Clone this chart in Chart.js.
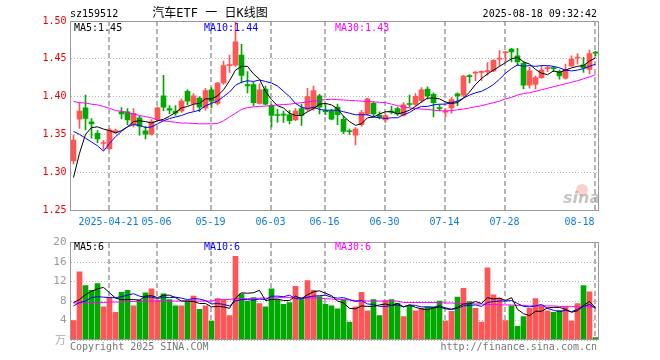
<!DOCTYPE html>
<html>
<head>
<meta charset="utf-8">
<script src="https://cdn.jsdelivr.net/npm/chart.js@4.4.1/dist/chart.umd.min.js"></script>
<style>
  html, body { margin: 0; padding: 0; background: #fff; }
  #wrap { position: relative; width: 660px; height: 360px; }
  canvas { position: absolute; left: 0; }
</style>
</head>
<body>
<div id="wrap">
  <canvas id="kline" width="660" height="232" style="top:0"></canvas>
  <canvas id="vol" width="660" height="128" style="top:232px"></canvas>
</div>
<script>
const dates = [
  '04-11','04-14','04-15','04-16','04-17','04-18','04-21','04-22','04-23','04-24',
  '04-25','04-28','04-29','04-30','05-06','05-07','05-08','05-09','05-12','05-13',
  '05-14','05-15','05-16','05-19','05-20','05-21','05-22','05-23','05-26','05-27',
  '05-28','05-29','05-30','06-03','06-04','06-05','06-06','06-09','06-10','06-11',
  '06-12','06-13','06-16','06-17','06-18','06-19','06-20','06-23','06-24','06-25',
  '06-26','06-27','06-30','07-01','07-02','07-03','07-04','07-07','07-08','07-09',
  '07-10','07-11','07-14','07-15','07-16','07-17','07-18','07-21','07-22','07-23',
  '07-24','07-25','07-28','07-29','07-30','07-31','08-01','08-04','08-05','08-06',
  '08-07','08-08','08-11','08-12','08-13','08-14','08-15','08-18'
];
const tickLabels = ['2025-04-21','05-06','05-19','06-03','06-16','06-30','07-14','07-28','08-18'];

const opens = [
  1.315,1.370,1.385,1.3665,1.3515,1.338,1.331,1.353,1.380,1.380,
  1.363,1.372,1.3547,1.3502,1.3697,1.401,1.384,1.381,1.381,1.407,
  1.391,1.398,1.385,1.409,1.391,1.418,1.441,1.4415,1.455,1.416,
  1.416,1.391,1.410,1.388,1.3757,1.376,1.376,1.369,1.384,1.383,
  1.384,1.401,1.3815,1.381,1.386,1.370,1.3545,1.349,1.363,1.377,
  1.391,1.3755,1.369,1.380,1.384,1.375,1.390,1.3895,1.395,1.410,
  1.403,1.385,1.3795,1.385,1.4037,1.402,1.4275,1.431,1.432,1.433,
  1.434,1.4495,1.458,1.463,1.454,1.444,1.415,1.416,1.425,1.437,
  1.438,1.433,1.4245,1.4405,1.451,1.442,1.436,1.4585
];
const highs = [
  1.349,1.392,1.402,1.371,1.355,1.342,1.3585,1.357,1.3855,1.384,
  1.384,1.374,1.3607,1.3697,1.386,1.428,1.388,1.388,1.397,1.409,
  1.404,1.400,1.411,1.412,1.419,1.447,1.455,1.500,1.469,1.433,
  1.419,1.417,1.414,1.390,1.383,1.381,1.382,1.384,1.390,1.411,
  1.414,1.403,1.391,1.383,1.390,1.374,1.357,1.359,1.382,1.398,
  1.393,1.380,1.377,1.387,1.386,1.392,1.402,1.404,1.412,1.413,
  1.405,1.389,1.384,1.399,1.405,1.428,1.429,1.433,1.434,1.445,
  1.449,1.461,1.460,1.464,1.464,1.446,1.439,1.427,1.441,1.440,
  1.440,1.435,1.443,1.454,1.457,1.452,1.4615,1.460
];
const lows = [
  1.311,1.358,1.356,1.345,1.339,1.330,1.330,1.351,1.3705,1.363,
  1.360,1.349,1.344,1.349,1.368,1.3814,1.377,1.375,1.379,1.389,
  1.381,1.380,1.382,1.385,1.389,1.416,1.432,1.440,1.418,1.405,
  1.388,1.390,1.389,1.360,1.366,1.366,1.364,1.368,1.362,1.381,
  1.382,1.377,1.376,1.369,1.363,1.351,1.350,1.336,1.361,1.375,
  1.373,1.3705,1.366,1.377,1.375,1.374,1.386,1.388,1.392,1.397,
  1.373,1.381,1.373,1.378,1.388,1.400,1.418,1.421,1.421,1.428,
  1.433,1.441,1.447,1.446,1.441,1.410,1.411,1.410,1.424,1.433,
  1.433,1.423,1.423,1.440,1.443,1.432,1.430,1.454
];
const closes = [
  1.3425,1.381,1.371,1.364,1.344,1.339,1.356,1.355,1.377,1.369,
  1.378,1.361,1.3502,1.367,1.3852,1.386,1.382,1.378,1.394,1.394,
  1.401,1.386,1.408,1.394,1.418,1.441,1.442,1.4725,1.428,1.414,
  1.392,1.409,1.390,1.375,1.375,1.3755,1.368,1.381,1.375,1.400,
  1.408,1.386,1.380,1.370,1.376,1.354,1.3535,1.357,1.379,1.397,
  1.377,1.3725,1.375,1.3795,1.377,1.389,1.3895,1.4005,1.409,1.401,
  1.392,1.384,1.3805,1.396,1.401,1.427,1.4265,1.432,1.433,1.434,
  1.448,1.4505,1.459,1.459,1.446,1.415,1.434,1.425,1.435,1.438,
  1.437,1.4275,1.436,1.4495,1.452,1.438,1.457,1.4575
];

const ma5 = [
  1.293,1.325,1.350,1.359,1.360,1.357,1.355,1.352,1.355,1.360,
  1.367,1.368,1.367,1.365,1.368,1.370,1.374,1.379,1.385,1.387,
  1.390,1.391,1.397,1.397,1.401,1.409,1.421,1.435,1.440,1.440,
  1.430,1.423,1.407,1.396,1.388,1.385,1.378,1.375,1.375,1.380,
  1.384,1.390,1.391,1.389,1.384,1.374,1.367,1.362,1.364,1.372,
  1.373,1.377,1.380,1.380,1.377,1.379,1.382,1.387,1.393,1.398,
  1.398,1.397,1.393,1.391,1.392,1.398,1.406,1.416,1.424,1.430,
  1.435,1.440,1.445,1.450,1.452,1.446,1.443,1.436,1.431,1.429,
  1.434,1.432,1.435,1.438,1.440,1.441,1.447,1.451
];
const ma10 = [
  1.354,1.350,1.345,1.340,1.335,1.328,1.338,1.347,1.354,1.360,
  1.363,1.362,1.359,1.360,1.364,1.368,1.371,1.373,1.375,1.378,
  1.380,1.382,1.388,1.391,1.394,1.400,1.406,1.415,1.419,1.421,
  1.420,1.422,1.420,1.418,1.414,1.407,1.400,1.391,1.386,1.384,
  1.386,1.383,1.382,1.382,1.382,1.380,1.378,1.376,1.376,1.376,
  1.373,1.372,1.371,1.372,1.372,1.376,1.379,1.384,1.387,1.387,
  1.389,1.390,1.390,1.392,1.394,1.398,1.402,1.405,1.407,1.411,
  1.416,1.423,1.431,1.437,1.442,1.440,1.441,1.440,1.441,1.441,
  1.440,1.438,1.435,1.434,1.435,1.437,1.440,1.443
];
const ma30 = [
  1.3935,1.392,1.3915,1.390,1.389,1.387,1.3845,1.3815,1.3805,1.379,
  1.377,1.375,1.3735,1.372,1.369,1.368,1.367,1.366,1.365,1.365,
  1.3645,1.364,1.364,1.364,1.3645,1.368,1.373,1.378,1.383,1.3855,
  1.3865,1.387,1.3875,1.388,1.389,1.3895,1.390,1.391,1.392,1.393,
  1.394,1.395,1.396,1.3965,1.396,1.3955,1.395,1.3945,1.394,1.3935,
  1.393,1.3925,1.392,1.390,1.388,1.3865,1.385,1.384,1.3835,1.383,
  1.382,1.3815,1.381,1.3815,1.3825,1.3835,1.385,1.3865,1.388,1.390,
  1.392,1.394,1.397,1.399,1.402,1.404,1.405,1.407,1.409,1.411,
  1.413,1.415,1.417,1.419,1.421,1.4235,1.426,1.429
];

const volumes = [
  4.0,14.0,11.2,10.2,11.6,6.8,8.8,5.7,9.8,10.2,
  7.0,8.2,9.7,10.5,8.2,9.5,8.3,7.0,7.0,8.0,
  9.0,6.3,7.0,3.9,8.5,8.2,5.0,17.2,9.5,8.0,
  8.7,7.5,6.8,10.5,8.3,7.3,7.7,11.0,8.3,12.2,
  10.2,8.9,7.3,7.0,6.4,8.3,3.7,6.8,9.8,6.0,
  8.3,5.0,8.1,8.3,7.6,4.8,7.0,6.0,6.5,6.8,
  6.8,8.0,3.9,5.9,8.8,10.6,7.9,6.5,3.7,14.8,
  9.3,8.6,4.0,7.0,2.8,4.8,6.5,8.5,7.0,6.0,
  5.7,6.1,6.8,3.9,7.5,11.2,9.9,0.5
];
const volMa5 = [
  7.7,8.3,9.3,10.0,10.5,10.8,9.7,8.6,8.3,8.3,
  8.3,8.2,9.0,9.1,8.7,9.2,9.2,8.7,8.0,8.0,
  7.9,7.5,7.5,6.8,6.9,6.8,6.5,8.6,9.7,9.6,
  9.7,10.2,8.1,8.3,8.4,8.1,8.1,9.0,8.5,9.3,
  9.9,10.1,9.6,9.1,8.0,7.6,6.5,6.4,7.0,6.9,
  6.9,7.2,7.4,7.1,7.5,6.8,7.2,6.7,6.4,6.2,
  6.6,6.8,6.4,6.3,6.7,7.4,7.4,7.9,7.5,8.7,
  8.4,8.6,8.1,8.7,6.3,5.4,5.0,5.9,5.9,6.6,
  6.7,6.7,6.3,5.7,6.0,7.1,7.9,6.6
];
const volMa10 = [
  7.0,7.7,8.0,8.7,8.9,8.8,8.7,8.7,8.9,9.2,
  9.5,9.0,8.8,8.8,8.5,8.8,8.7,8.8,8.6,8.3,
  8.5,8.4,8.1,7.4,7.5,7.3,7.0,8.0,8.3,8.3,
  8.2,8.4,8.3,9.0,9.0,8.9,9.2,8.5,8.4,8.8,
  9.0,9.1,9.2,8.8,8.6,8.7,8.3,7.9,8.1,7.4,
  7.3,6.9,6.9,7.1,7.2,6.8,7.2,7.1,6.8,6.8,
  6.7,7.0,6.6,6.3,6.5,7.0,7.1,7.2,6.9,7.7,
  7.9,8.0,8.0,8.1,7.5,6.9,6.8,7.0,7.3,6.5,
  6.1,5.8,6.1,5.8,6.3,6.9,7.3,6.5
];
const volMa30 = [
  7.6,7.6,7.7,7.7,7.7,7.7,7.8,7.8,7.8,7.9,
  7.9,7.9,8.0,8.0,8.0,8.0,8.0,8.0,8.0,8.0,
  8.0,8.0,8.0,8.0,8.3,8.3,8.3,8.5,8.5,8.5,
  8.5,8.6,8.6,8.6,8.7,8.7,8.7,8.7,8.7,8.7,
  8.6,8.6,8.5,8.4,8.3,8.3,8.2,8.1,8.1,8.0,
  8.0,8.0,8.0,8.0,8.0,7.7,7.7,7.7,7.7,7.7,
  7.7,7.7,7.6,7.6,7.5,7.5,7.5,7.4,7.4,7.3,
  7.3,7.2,7.2,7.2,7.1,7.1,7.0,7.0,7.0,7.0,
  7.0,6.9,6.9,6.9,6.8,6.8,6.8,6.8
];

const RED = '#ff5555', GREEN = '#00a800';
const MONO = '"DejaVu Sans Mono", "Noto Sans CJK SC", monospace';
const colors = closes.map((c, i) => c >= opens[i] ? RED : GREEN);
const tickIdx = tickLabels.map(t => dates.indexOf(t.slice(-5)));
const last = a => a[a.length - 1];

Chart.defaults.font.family = MONO;
Chart.defaults.animation = false;

const xScale = () => ({
  offset: true,
  grid: { display: false },
  border: { display: false },
  ticks: { display: false, autoSkip: false },
  afterFit: s => { s.height = 0; }
});

const maLine = (data, color) => ({
  type: 'line', data, borderColor: color, borderWidth: 1,
  pointRadius: 0, tension: 0, order: 0
});

// dashed date lines under the marks
const dateLines = {
  id: 'dateLines',
  beforeDatasetsDraw(chart) {
    const { ctx, chartArea: a } = chart;
    const x = chart.scales.x;
    ctx.save();
    ctx.fillStyle = '#b4b4b4';
    tickIdx.forEach(i => {
      const px = Math.round(x.getPixelForValue(i)) - 2;
      for (let y = Math.round(a.top); y < a.bottom; y += 8) {
        ctx.fillRect(px, y, 2, Math.min(5, a.bottom - y));
      }
    });
    ctx.restore();
  }
};

// frame round the plot area
const frame = {
  id: 'frame',
  afterDraw(chart) {
    const { ctx, chartArea: a } = chart;
    ctx.save();
    ctx.strokeStyle = '#999';
    ctx.lineWidth = 1;
    ctx.strokeRect(Math.floor(a.left) + 0.5, Math.floor(a.top) + 0.5,
      Math.round(a.right - a.left), Math.round(a.bottom - a.top));
    ctx.restore();
  }
};

const klineText = {
  id: 'klineText',
  afterDraw(chart) {
    const ctx = chart.ctx;
    const xs = chart.scales.x;
    ctx.save();
    ctx.textBaseline = 'alphabetic';
    ctx.font = '10px ' + MONO;
    ctx.fillStyle = '#000';
    ctx.textAlign = 'left';
    ctx.fillText('sz159512', 70, 17);
    ctx.textAlign = 'right';
    ctx.fillText('2025-08-18 09:32:42', 597, 17);
    ctx.font = '12px ' + MONO;
    ctx.textAlign = 'center';
    ctx.fillText('汽车ETF 一 日K线图', 210, 17);

    ctx.font = '10px ' + MONO;
    ctx.textAlign = 'left';
    ctx.fillStyle = '#000';
    ctx.fillText('MA5:' + last(ma5).toFixed(2), 74, 31);
    ctx.fillStyle = '#0000ff';
    ctx.fillText('MA10:' + last(ma10).toFixed(2), 204, 31);
    ctx.fillStyle = '#ff00ff';
    ctx.fillText('MA30:' + last(ma30).toFixed(2), 335, 31);

    ctx.fillStyle = '#0b7dda';
    tickLabels.forEach((t, k) => {
      const px = xs.getPixelForValue(tickIdx[k]) - 1;
      const isLast = k === tickLabels.length - 1;
      ctx.textAlign = isLast ? 'right' : 'center';
      ctx.fillText(t, px, 225);
    });

    // sina watermark
    ctx.fillStyle = 'rgba(235,120,120,0.35)';
    ctx.beginPath();
    ctx.arc(582, 190, 6, 0, Math.PI * 2);
    ctx.fill();
    ctx.fillStyle = 'rgba(150,150,150,0.55)';
    ctx.font = 'italic bold 16px "DejaVu Sans"';
    ctx.textAlign = 'left';
    ctx.fillText('sina', 563, 203);
    ctx.restore();
  }
};

const volText = {
  id: 'volText',
  afterDraw(chart) {
    const ctx = chart.ctx;
    ctx.save();
    ctx.textBaseline = 'alphabetic';
    ctx.font = '10px ' + MONO;
    ctx.textAlign = 'left';
    ctx.fillStyle = '#000';
    ctx.fillText('MA5:' + Math.floor(last(volMa5)), 74, 18);
    ctx.fillStyle = '#0000ff';
    ctx.fillText('MA10:' + Math.floor(last(volMa10)), 204, 18);
    ctx.fillStyle = '#ff00ff';
    ctx.fillText('MA30:' + Math.floor(last(volMa30)), 335, 18);

    ctx.fillStyle = '#aaa';
    ctx.font = '11px "Noto Sans CJK SC"';
    ctx.textAlign = 'right';
    ctx.fillText('万', 66, 112);

    ctx.fillStyle = '#777';
    ctx.font = '10px ' + MONO;
    ctx.textAlign = 'left';
    ctx.fillText('Copyright 2025 SINA.COM', 70, 118);
    ctx.textAlign = 'right';
    ctx.fillText('http://finance.sina.com.cn', 597, 118);
    ctx.restore();
  }
};

new Chart(document.getElementById('kline'), {
  data: {
    labels: dates,
    datasets: [
      maLine(ma5, '#000000'),
      maLine(ma10, '#0000ff'),
      maLine(ma30, '#ff00ff'),
      {
        type: 'bar', data: opens.map((o, i) => [o, closes[i]]),
        backgroundColor: colors, barThickness: 5, minBarLength: 1,
        grouped: false, borderWidth: 0, order: 1
      },
      {
        type: 'bar', data: lows.map((l, i) => [l, highs[i]]),
        backgroundColor: colors, barThickness: 1,
        grouped: false, borderWidth: 0, order: 2
      }
    ]
  },
  options: {
    responsive: false,
    layout: { padding: { top: 21, right: 61.5, bottom: 22, left: 0.5 } },
    plugins: { legend: { display: false }, tooltip: { enabled: false } },
    scales: {
      x: xScale(),
      y: {
        min: 1.25, max: 1.50,
        ticks: {
          stepSize: 0.05, color: '#ee0000', padding: 4,
          font: { size: 10, family: MONO },
          callback: v => v.toFixed(2)
        },
        grid: { drawTicks: false, color: '#b4b4b4' },
        border: { display: false, dash: [1, 2] },
        afterFit: s => { s.width = 70; }
      }
    }
  },
  plugins: [dateLines, frame, klineText]
});

new Chart(document.getElementById('vol'), {
  data: {
    labels: dates,
    datasets: [
      maLine(volMa5, '#000000'),
      maLine(volMa10, '#0000ff'),
      maLine(volMa30, '#ff00ff'),
      {
        type: 'bar', data: volumes, backgroundColor: colors,
        barThickness: 5, borderWidth: 0, grouped: false, order: 1
      }
    ]
  },
  options: {
    responsive: false,
    layout: { padding: { top: 8, right: 61.5, bottom: 20, left: 0.5 } },
    plugins: { legend: { display: false }, tooltip: { enabled: false } },
    scales: {
      x: xScale(),
      y: {
        min: 0, max: 20,
        ticks: {
          stepSize: 4, color: '#999', padding: 4,
          font: { size: 11, family: MONO },
          callback: v => v === 0 ? '' : v
        },
        grid: { drawTicks: false, color: '#b4b4b4' },
        border: { display: false, dash: [1, 2] },
        afterFit: s => { s.width = 70; }
      }
    }
  },
  plugins: [dateLines, frame, volText]
});
</script>
</body>
</html>
